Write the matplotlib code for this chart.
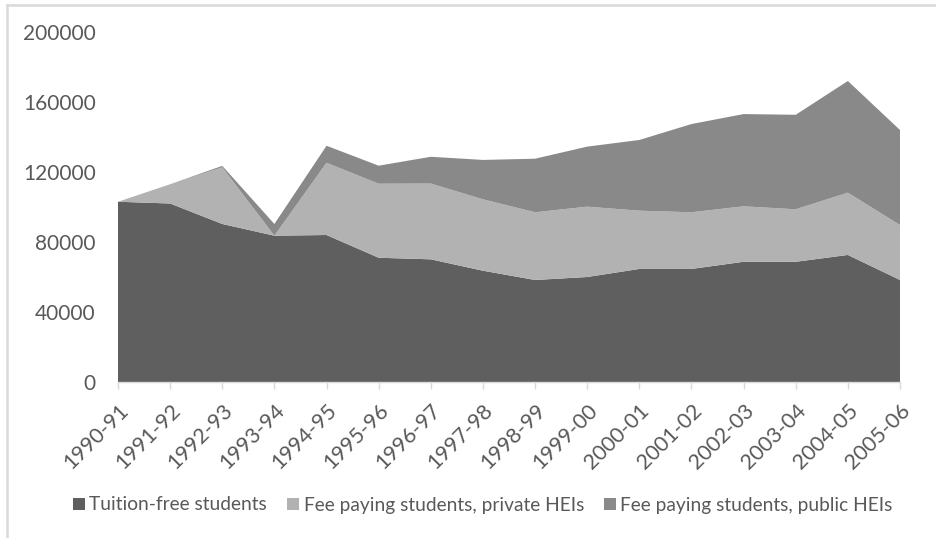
import matplotlib
matplotlib.use("Agg")
import matplotlib.pyplot as plt
from matplotlib.lines import Line2D
from matplotlib.patches import Patch
import numpy as np

years = ["1990-91", "1991-92", "1992-93", "1993-94", "1994-95", "1995-96",
         "1996-97", "1997-98", "1998-99", "1999-00", "2000-01", "2001-02",
         "2002-03", "2003-04", "2004-05", "2005-06"]
tuition_free = [103000, 102000, 90300, 83600, 84000, 71000, 70100, 63600,
                58300, 60000, 64600, 64600, 68700, 68700, 72600, 58300]
fee_private = [0, 11000, 32400, 0, 41300, 42300, 43300, 40800,
               38700, 40200, 33300, 32400, 31700, 30000, 35600, 31400]
fee_public = [0, 0, 800, 6700, 9700, 10300, 15300, 22500,
              30600, 34300, 40400, 50400, 52700, 54000, 63800, 54300]

labels = ["Tuition-free students", "Fee paying students, private HEIs",
          "Fee paying students, public HEIs"]
colors = ["#5f5f5f", "#b2b2b2", "#898989"]
text_color = "#595959"

plt.rcParams["font.family"] = ["Lato", "DejaVu Sans"]

fig = plt.figure(figsize=(9.36, 5.38), dpi=100)
W, H = 936, 538
ax = fig.add_axes([118 / W, 1 - 382 / H, (900 - 118) / W, (382 - 32) / H])

x = np.arange(len(years))
ax.stackplot(x, tuition_free, fee_private, fee_public, colors=colors,
             linewidth=0)

ax.set_xlim(0, len(years) - 1)
ax.set_ylim(0, 200000)
ax.set_yticks(np.arange(0, 200001, 40000))
ax.set_yticklabels([str(v) for v in range(0, 200001, 40000)])
ax.set_xticks(x)
ax.set_xticklabels(years, rotation=45, ha="right", va="top",
                   rotation_mode="anchor")

for side in ["top", "right", "left"]:
    ax.spines[side].set_visible(False)
ax.spines["bottom"].set_color("#d9d9d9")
ax.spines["bottom"].set_linewidth(1.0)

ax.tick_params(axis="y", length=0, pad=16, labelsize=15, labelcolor=text_color)
ax.tick_params(axis="x", length=5, width=1.0, color="#d9d9d9", pad=8,
               labelsize=15.5, labelcolor=text_color)

handles = [Patch(facecolor=c, edgecolor="none") for c in colors]
fig.legend(handles, labels, loc="center", bbox_to_anchor=(483 / W, 1 - 505 / H),
           ncol=3, frameon=False, fontsize=13.8, labelcolor=text_color,
           handlelength=0.6, handleheight=0.6, handletextpad=0.25,
           columnspacing=1.05)

# chart-area frame along the top and left edges
frame_kw = dict(color="#d9d9d9", linewidth=1.8, transform=None)
fig.add_artist(Line2D([7, 7], [0, H - 5], **frame_kw))
fig.add_artist(Line2D([7, W], [H - 5, H - 5], **frame_kw))

fig.savefig("out.png", dpi=100, facecolor="white")
